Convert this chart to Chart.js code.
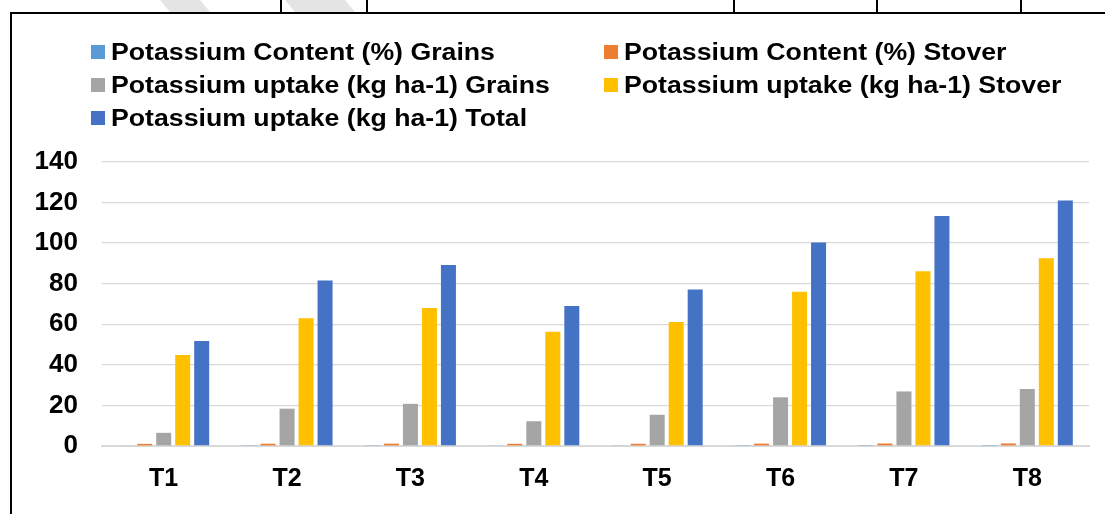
<!DOCTYPE html>
<html>
<head>
<meta charset="utf-8">
<script src="https://cdn.jsdelivr.net/npm/chart.js@4.4.0/dist/chart.umd.min.js"></script>
<style>
  body { margin: 0; background: #fff; font-family: "Liberation Sans", Arial, sans-serif; }
  #wrap { position: relative; width: 1105px; height: 514px; overflow: hidden; }
  #box { position: absolute; left: 0; top: 0; width: 1105px; height: 514px; }
  .frameLeft { position: absolute; left: 10px; top: 12px; width: 2px; height: 502px; background: #000; }
  .frameTop { position: absolute; left: 10px; top: 12px; width: 1095px; height: 2px; background: #000; }
  .cell { position: absolute; top: 0; width: 2px; height: 13px; background: #000; }
  .mark { position: absolute; top: 0; height: 12px; background: #e4e4e4; transform: skewX(40deg); }
  #legend { position: absolute; left: 0; top: 0; }
  .item { position: absolute; height: 24px; display: flex; align-items: center; white-space: nowrap; }
  .item span.sw { width: 14px; height: 14px; margin-right: 6px; flex: none; }
  .item span.tx { font-weight: bold; font-size: 23px; color: #000; display: inline-block;
                  transform: scaleX(1.16); transform-origin: left center; }
</style>
</head>
<body>
<div id="wrap">
  <div class="mark" style="left:165px;width:40px"></div>
  <div class="mark" style="left:290px;width:60px"></div>
  <div class="cell" style="left:280px"></div>
  <div class="cell" style="left:366px"></div>
  <div class="cell" style="left:733px"></div>
  <div class="cell" style="left:876px"></div>
  <div class="cell" style="left:1020px"></div>
  <div id="box"><canvas id="myChart"></canvas></div>
  <div class="frameLeft"></div>
  <div class="frameTop"></div>
  <div id="legend"></div>
</div>
<script>
// Chart data
const categories = ['T1', 'T2', 'T3', 'T4', 'T5', 'T6', 'T7', 'T8'];
const contentGrains = [0.35, 0.42, 0.45, 0.38, 0.40, 0.46, 0.48, 0.50];
const contentStover = [1.05, 1.12, 1.15, 1.08, 1.10, 1.18, 1.22, 1.25];
const uptakeGrains = [6.5, 18.4, 20.8, 12.2, 15.4, 24.0, 26.9, 28.1];
const uptakeStover = [44.8, 63.0, 68.0, 56.3, 61.1, 76.0, 86.2, 92.5];
const uptakeTotal = [51.7, 81.6, 89.2, 69.0, 77.2, 100.3, 113.4, 121.0];
const yTicks = [0, 20, 40, 60, 80, 100, 120, 140];

const seriesNames = [
  'Potassium Content (%) Grains',
  'Potassium Content (%) Stover',
  'Potassium uptake (kg ha-1) Grains',
  'Potassium uptake (kg ha-1) Stover',
  'Potassium uptake (kg ha-1) Total'
];
const seriesColors = ['#5B9BD5', '#ED7D31', '#A5A5A5', '#FFC000', '#4472C4'];
const seriesValues = [contentGrains, contentStover, uptakeGrains, uptakeStover, uptakeTotal];

const fontFamily = '"Liberation Sans", Arial, sans-serif';

let ctx = document.getElementById('myChart').getContext('2d');

const chart = new Chart(ctx, {
  type: 'bar',
  data: {
    labels: categories,
    datasets: seriesValues.map((vals, i) => ({
      label: seriesNames[i],
      data: vals,
      backgroundColor: seriesColors[i],
      borderWidth: 0,
      categoryPercentage: 0.77,
      barPercentage: 0.79,
    })),
  },
  options: {
    responsive: true,
    maintainAspectRatio: false,
    animation: false,
    layout: { padding: { top: 162, right: 16, left: 0, bottom: 0 } },
    scales: {
      x: {
        grid: { display: false, drawTicks: false },
        border: { display: true, color: '#d9d9d9', width: 2 },
        ticks: {
          color: '#000',
          padding: 18,
          font: { family: fontFamily, size: 25, weight: 'bold' },
        },
        afterFit(scale) { scale.height = 68; },
      },
      y: {
        min: 0,
        max: 140,
        afterBuildTicks(scale) { scale.ticks = yTicks.map(v => ({ value: v })); },
        grid: { color: '#d9d9d9', lineWidth: 1.3, drawTicks: false },
        border: { display: false },
        ticks: {
          color: '#000',
          padding: 24,
          font: { family: fontFamily, size: 26, weight: 'bold' },
        },
        afterFit(scale) { scale.width = 102; },
      },
    },
    plugins: {
      legend: { display: false },
      tooltip: { enabled: false },
    },
  },
});

// Legend laid out in two columns like the original
function buildLegend() {
  const legend = document.getElementById('legend');
  const colX = [91, 604];
  const rowY = [52, 85, 118];
  chart.data.datasets.forEach((ds, i) => {
    const item = document.createElement('div');
    item.className = 'item';
    item.style.left = colX[i % 2] + 'px';
    item.style.top = (rowY[Math.floor(i / 2)] - 12) + 'px';
    const sw = document.createElement('span');
    sw.className = 'sw';
    sw.style.background = ds.backgroundColor;
    const tx = document.createElement('span');
    tx.className = 'tx';
    tx.textContent = ds.label;
    item.appendChild(sw);
    item.appendChild(tx);
    legend.appendChild(item);
  });
}
buildLegend();
</script>
</body>
</html>
